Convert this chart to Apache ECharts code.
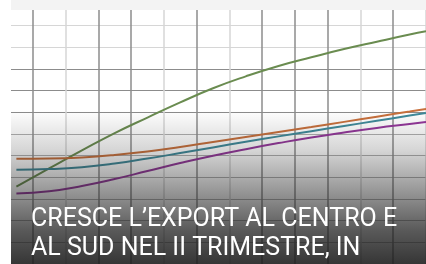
<!DOCTYPE html>
<html>
<head>
<meta charset="utf-8">
<script src="https://cdn.jsdelivr.net/npm/echarts@6/dist/echarts.min.js"></script>
<style>
  html, body { margin: 0; padding: 0; background: #fff; }
  #chart { width: 426px; height: 264px; }
</style>
</head>
<body>
<div id="chart"></div>
<script>
// x positions (grid units) and the four series
const xs = [0.5, 1.5, 2.5, 3.5, 4.5, 5.5, 6.5, 7.5, 8.5, 9.5, 10.5, 11.5, 12.5, 13];
const green = [3.57, 4.41, 5.24, 6.04, 6.76, 7.46, 8.11, 8.66, 9.14, 9.54, 9.92, 10.26, 10.59, 10.74];
const orange = [4.86, 4.87, 4.92, 5.03, 5.19, 5.40, 5.63, 5.86, 6.09, 6.32, 6.56, 6.80, 7.04, 7.16];
const teal = [4.35, 4.38, 4.47, 4.64, 4.87, 5.12, 5.38, 5.64, 5.89, 6.13, 6.37, 6.61, 6.85, 6.97];
const purple = [3.25, 3.36, 3.60, 3.92, 4.29, 4.66, 5.00, 5.30, 5.58, 5.84, 6.07, 6.28, 6.46, 6.55];
const headline = ["CRESCE L\u2019EXPORT AL CENTRO E", "AL SUD NEL II TRIMESTRE, IN"];

const pairs = (ys) => xs.map((x, i) => [x, ys[i]]);

const chart = echarts.init(document.getElementById("chart"));

function line(name, data, color) {
  return {
    name: name,
    type: "line",
    smooth: true,
    symbol: "none",
    data: pairs(data),
    lineStyle: { color: color, width: 2 },
  };
}

const D = "#8c8c8c", L = "#d6d6d6", M = "#b0b0b0";

const option = {
  animation: false,
  backgroundColor: "#fff",
  grid: { left: -6, right: -14, top: 4, bottom: -2 },
  xAxis: {
    type: "value",
    min: 0,
    max: 13,
    interval: 1,
    axisLine: { show: false },
    axisTick: { show: false },
    axisLabel: { show: false },
    splitLine: {
      show: true,
      lineStyle: { width: 1.5, color: [L, D, L, D, D, L, D, L, D, D, D, L, D, L] },
    },
  },
  yAxis: {
    type: "value",
    min: 0,
    max: 12,
    interval: 1,
    axisLine: { show: false },
    axisTick: { show: false },
    axisLabel: { show: false },
    splitLine: {
      show: true,
      lineStyle: { width: 1.2, color: [M, M, M, M, M, M, M, D, D, D, L, L, L] },
    },
  },
  series: [
    line("green", green, "#6a8c50"),
    line("orange", orange, "#c8703c"),
    line("teal", teal, "#3f8a9a"),
    line("purple", purple, "#93379a"),
  ],
  graphic: [
    {
      type: "rect",
      z: 100,
      shape: { x: 0, y: 110, width: 426, height: 154 },
      style: {
        fill: {
          type: "linear", x: 0, y: 0, x2: 0, y2: 1,
          colorStops: [
            { offset: 0, color: "rgba(26,26,26,0)" },
            { offset: 0.26, color: "rgba(26,26,26,0.18)" },
            { offset: 0.55, color: "rgba(26,26,26,0.48)" },
            { offset: 0.78, color: "rgba(26,26,26,0.72)" },
            { offset: 1, color: "rgba(26,26,26,0.88)" },
          ],
        },
      },
    },
    {
      type: "rect",
      z: 101,
      shape: { x: 11, y: 0, width: 415, height: 10 },
      style: { fill: "#f3f3f3" },
    },
    {
      type: "rect",
      z: 101,
      shape: { x: 0, y: 0, width: 11, height: 264 },
      style: { fill: "#fff" },
    },
    {
      type: "text",
      z: 102,
      x: 31,
      y: 207,
      style: { text: headline[0], fill: "#fff", font: "25px Roboto", verticalAlign: "top" },
    },
    {
      type: "text",
      z: 102,
      x: 31,
      y: 236,
      style: { text: headline[1], fill: "#fff", font: "25px Roboto", verticalAlign: "top" },
    },
  ],
};

chart.setOption(option);
</script>
</body>
</html>
